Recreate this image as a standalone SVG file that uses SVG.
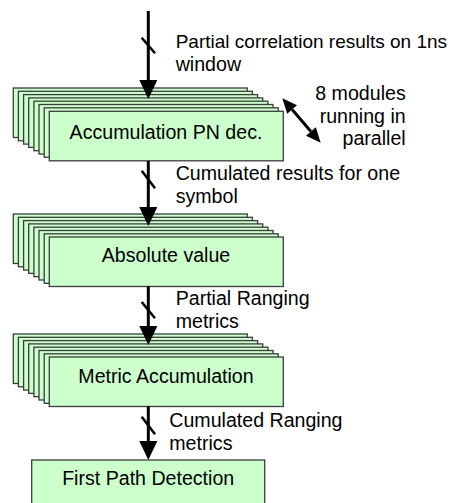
<svg xmlns="http://www.w3.org/2000/svg" width="458" height="503" viewBox="0 0 458 503">
  <style>
    .card { fill: #ccffcc; stroke: #3c3c3c; stroke-width: 1.3; }
    .lbl { font-family: "Liberation Sans", Arial, sans-serif; font-size: 19.6px; fill: #000; }
    .mid { text-anchor: middle; }
    .end { text-anchor: end; }
    .flow { stroke: #000; stroke-width: 3; fill: none; }
    .bus { stroke: #000; stroke-width: 2.5; }
  </style>
  <defs>
    <marker id="head" markerUnits="userSpaceOnUse" markerWidth="19" markerHeight="18" viewBox="0 0 19 18" refX="0" refY="9" orient="auto">
      <path d="M0,0 L19,9 L0,18 z" fill="#000"/>
    </marker>
    <marker id="tip" markerUnits="userSpaceOnUse" markerWidth="15" markerHeight="13" viewBox="0 0 15 13" refX="0" refY="6.5" orient="auto-start-reverse">
      <path d="M0,0 L15,6.5 L0,13 z" fill="#000"/>
    </marker>
    <!-- one module card; stacks reuse it with offsets -->
    <rect id="card" class="card" x="0" y="0" width="234" height="49.5"/>
  </defs>

  <!-- Stack of 8 accumulation modules -->
  <g id="accumulation">
    <use href="#card" x="13.3" y="88"/>
    <use href="#card" x="18.4" y="91.3"/>
    <use href="#card" x="23.6" y="94.6"/>
    <use href="#card" x="28.7" y="97.9"/>
    <use href="#card" x="33.9" y="101.2"/>
    <use href="#card" x="39" y="104.5"/>
    <use href="#card" x="44.2" y="107.8"/>
    <use href="#card" x="49.3" y="111.3"/>
    <text class="lbl mid" x="166" y="138.5">Accumulation PN dec.</text>
  </g>

  <g id="absolute">
    <use href="#card" x="13.3" y="214"/>
    <use href="#card" x="18.4" y="217.3"/>
    <use href="#card" x="23.6" y="220.6"/>
    <use href="#card" x="28.7" y="223.9"/>
    <use href="#card" x="33.9" y="227.2"/>
    <use href="#card" x="39" y="230.5"/>
    <use href="#card" x="44.2" y="233.8"/>
    <use href="#card" x="49.3" y="237"/>
    <text class="lbl mid" x="166" y="261.7">Absolute value</text>
  </g>

  <g id="metric">
    <use href="#card" x="13.3" y="334"/>
    <use href="#card" x="18.4" y="337.3"/>
    <use href="#card" x="23.6" y="340.6"/>
    <use href="#card" x="28.7" y="343.9"/>
    <use href="#card" x="33.9" y="347.2"/>
    <use href="#card" x="39" y="350.5"/>
    <use href="#card" x="44.2" y="353.8"/>
    <use href="#card" x="49.3" y="357"/>
    <text class="lbl mid" x="166" y="383.3">Metric Accumulation</text>
  </g>

  <g id="first-path">
    <rect class="card" x="31.7" y="460" width="233" height="60"/>
    <text class="lbl mid" x="148.2" y="485">First Path Detection</text>
  </g>

  <!-- Data path between stages, each bus marked with a slash -->
  <g id="connectors">
    <line class="flow" x1="148.3" y1="11" x2="148.3" y2="80" marker-end="url(#head)"/>
    <line class="bus" x1="141.7" y1="37.7" x2="155" y2="53.3"/>
    <line class="flow" x1="148.3" y1="161" x2="148.3" y2="207" marker-end="url(#head)"/>
    <line class="bus" x1="141.7" y1="170.7" x2="155" y2="188.3"/>
    <line class="flow" x1="148.3" y1="286" x2="148.3" y2="326" marker-end="url(#head)"/>
    <line class="bus" x1="141.7" y1="302" x2="155" y2="318.3"/>
    <line class="flow" x1="148.3" y1="406" x2="148.3" y2="441" marker-end="url(#head)"/>
    <line class="bus" x1="141.7" y1="416.7" x2="155" y2="434.3"/>
    <line class="flow" x1="292.1" y1="109.6" x2="310.9" y2="131.4" marker-start="url(#tip)" marker-end="url(#tip)"/>
  </g>

  <g id="labels">
    <text class="lbl" x="175.7" y="48.3" style="font-size:19px">Partial correlation results on 1ns</text>
    <text class="lbl" x="175.7" y="71">window</text>
    <text class="lbl end" x="405.7" y="100">8 modules</text>
    <text class="lbl end" x="405.7" y="122.5">running in</text>
    <text class="lbl end" x="405.7" y="145">parallel</text>
    <text class="lbl" x="175.7" y="180">Cumulated results for one</text>
    <text class="lbl" x="175.7" y="202.5">symbol</text>
    <text class="lbl" x="175.7" y="305">Partial Ranging</text>
    <text class="lbl" x="175.7" y="327.5">metrics</text>
    <text class="lbl" x="169.3" y="427">Cumulated Ranging</text>
    <text class="lbl" x="169.3" y="449.5">metrics</text>
  </g>
</svg>
